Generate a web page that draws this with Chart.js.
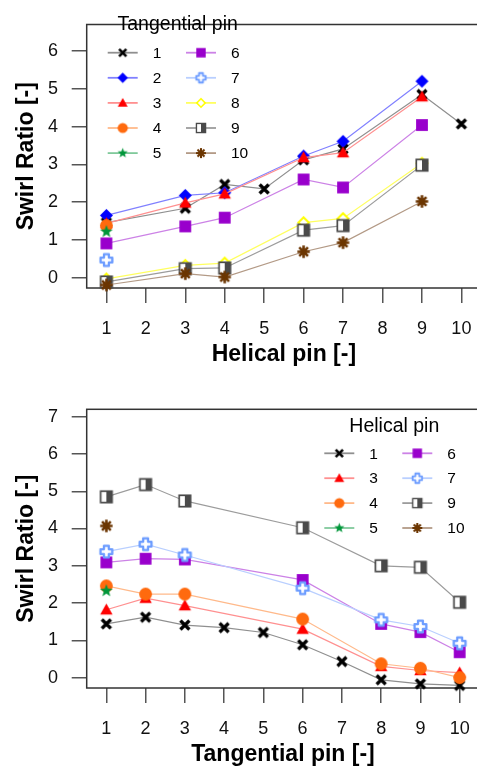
<!DOCTYPE html>
<html>
<head>
<meta charset="utf-8">
<script src="https://cdn.jsdelivr.net/npm/chart.js@4/dist/chart.umd.min.js"></script>
<style>
  html, body { margin: 0; padding: 0; background: #fff; overflow: hidden; }
  body { width: 477px; height: 770px; position: relative; }
  .chart-box { position: absolute; left: 0; width: 500px; }
  #topBox { top: 0; height: 370px; }
  #bottomBox { top: 380px; height: 390px; }
</style>
</head>
<body>
<div class="chart-box" id="topBox"><canvas id="helicalChart"></canvas></div>
<div class="chart-box" id="bottomBox"><canvas id="tangentialChart"></canvas></div>

<script>
// pin positions on both x axes
const helicalPin = [1, 2, 3, 4, 5, 6, 7, 8, 9, 10];
const tangentialPin = [1, 2, 3, 4, 5, 6, 7, 8, 9, 10];
const yTicksTop = [0, 1, 2, 3, 4, 5, 6];
const yTicksBottom = [0, 1, 2, 3, 4, 5, 6, 7];

// swirl ratio vs helical pin, one series per tangential pin
const tp1 = [1.46, null, 1.84, 2.47, 2.35, 3.12, 3.41, null, 4.85, 4.07];
const tp2 = [1.65, null, 2.18, 2.25, null, 3.22, 3.61, null, 5.20, null];
const tp3 = [1.44, null, 1.98, 2.22, null, 3.18, 3.31, null, 4.79, null];
const tp4 = [1.38, null, null, null, null, null, null, null, null, null];
const tp5 = [1.22, null, null, null, null, null, null, null, null, null];
const tp6 = [0.91, null, 1.36, 1.59, null, 2.60, 2.39, null, 4.04, null];
const tp7 = [0.47, null, null, null, null, null, null, null, null, null];
const tp8 = [-0.03, null, 0.33, 0.39, null, 1.46, 1.57, null, 3.03, null];
const tp9 = [-0.11, null, 0.24, 0.26, null, 1.26, 1.38, null, 2.98, null];
const tp10 = [-0.19, null, 0.11, 0.02, null, 0.69, 0.93, null, 2.02, null];

// swirl ratio vs tangential pin, one series per helical pin
const hp1 = [1.44, 1.62, 1.41, 1.34, 1.21, 0.88, 0.43, -0.06, -0.17, -0.21];
const hp3 = [1.82, 2.13, 1.93, null, null, 1.30, null, 0.30, 0.19, 0.13];
const hp4 = [2.46, 2.24, 2.24, null, null, 1.57, null, 0.37, 0.25, 0.00];
const hp5 = [2.33, null, null, null, null, null, null, null, null, null];
const hp6 = [3.09, 3.19, 3.17, null, null, 2.62, null, 1.44, 1.22, 0.68];
const hp7 = [3.38, 3.58, 3.29, null, null, 2.40, null, 1.55, 1.37, 0.92];
const hp9 = [4.85, 5.18, 4.74, null, null, 4.02, null, 3.00, 2.96, 2.02];
const hp10 = [4.07, null, null, null, null, null, null, null, null, null];

const FONT = '"Liberation Sans", Arial, Helvetica, sans-serif';

// marker + line look for each pin number (same in both plots)
const pinStyles = [
  { kind: 'cross', color: '#000000', line: '#8f8f8f', r: 6.6 },
  { kind: 'diamond', color: '#0000ff', line: '#8080ff', r: 6.5 },
  { kind: 'triangle', color: '#ff0000', line: '#ff9090', r: 6.2 },
  { kind: 'circle', color: '#ff6a0e', line: '#ffb98a', r: 6.4 },
  { kind: 'star', color: '#00963a', line: '#80c99b', r: 6.7 },
  { kind: 'square', color: '#9900cc', line: '#cc82e6', r: 5.9 },
  { kind: 'plus', color: '#6c9cff', line: '#b9cfff', r: 6.4 },
  { kind: 'openDiamond', color: '#ffff00', line: '#ffff60', r: 6.2 },
  { kind: 'halfSquare', color: '#4a4a4a', line: '#9c9c9c', r: 5.7 },
  { kind: 'asterisk', color: '#6b3500', line: '#b39a86', r: 6.2 }
];

const shapes = {
  cross(ctx, r, c) {
    const a = r * 0.68;
    ctx.strokeStyle = c; ctx.lineWidth = r * 0.5;
    ctx.beginPath();
    ctx.moveTo(-a, -a); ctx.lineTo(a, a);
    ctx.moveTo(a, -a); ctx.lineTo(-a, a);
    ctx.stroke();
  },
  diamond(ctx, r, c) {
    ctx.fillStyle = c;
    ctx.beginPath();
    ctx.moveTo(0, -r); ctx.lineTo(r, 0); ctx.lineTo(0, r); ctx.lineTo(-r, 0);
    ctx.closePath(); ctx.fill();
  },
  triangle(ctx, r, c) {
    ctx.fillStyle = c;
    ctx.beginPath();
    ctx.moveTo(0, -r); ctx.lineTo(r, r * 0.75); ctx.lineTo(-r, r * 0.75);
    ctx.closePath(); ctx.fill();
  },
  circle(ctx, r, c) {
    ctx.fillStyle = c;
    ctx.beginPath(); ctx.arc(0, 0, r, 0, Math.PI * 2); ctx.fill();
  },
  star(ctx, r, c) {
    ctx.fillStyle = c;
    ctx.beginPath();
    for (let k = 0; k < 10; k++) {
      const rad = k % 2 === 0 ? r : r * 0.42;
      const ang = -Math.PI / 2 + k * Math.PI / 5;
      ctx.lineTo(Math.cos(ang) * rad, Math.sin(ang) * rad);
    }
    ctx.closePath(); ctx.fill();
  },
  square(ctx, r, c) {
    ctx.fillStyle = c;
    ctx.fillRect(-r, -r, 2 * r, 2 * r);
  },
  plus(ctx, r, c) {
    const w = r * 0.38, a = r * 0.92;
    ctx.beginPath();
    ctx.moveTo(-w, -a); ctx.lineTo(w, -a); ctx.lineTo(w, -w); ctx.lineTo(a, -w);
    ctx.lineTo(a, w); ctx.lineTo(w, w); ctx.lineTo(w, a); ctx.lineTo(-w, a);
    ctx.lineTo(-w, w); ctx.lineTo(-a, w); ctx.lineTo(-a, -w); ctx.lineTo(-w, -w);
    ctx.closePath();
    ctx.fillStyle = '#fff'; ctx.fill();
    ctx.strokeStyle = c; ctx.lineWidth = r * 0.36; ctx.lineJoin = 'round'; ctx.stroke();
  },
  openDiamond(ctx, r, c) {
    const a = r * 0.85;
    ctx.beginPath();
    ctx.moveTo(0, -a); ctx.lineTo(a, 0); ctx.lineTo(0, a); ctx.lineTo(-a, 0);
    ctx.closePath();
    ctx.fillStyle = '#fff'; ctx.fill();
    ctx.strokeStyle = c; ctx.lineWidth = r * 0.32; ctx.stroke();
  },
  halfSquare(ctx, r, c) {
    ctx.fillStyle = '#fff'; ctx.fillRect(-r, -r, 2 * r, 2 * r);
    ctx.fillStyle = c; ctx.fillRect(0, -r, r, 2 * r);
    ctx.strokeStyle = c; ctx.lineWidth = r * 0.3; ctx.strokeRect(-r, -r, 2 * r, 2 * r);
  },
  asterisk(ctx, r, c) {
    ctx.strokeStyle = c; ctx.lineWidth = r * 0.42;
    ctx.beginPath();
    for (let k = 0; k < 4; k++) {
      const ang = k * Math.PI / 4;
      ctx.moveTo(Math.cos(ang) * r, Math.sin(ang) * r);
      ctx.lineTo(-Math.cos(ang) * r, -Math.sin(ang) * r);
    }
    ctx.stroke();
  }
};

function makeMarker(style, scale) {
  const r = style.r * scale;
  const dim = Math.ceil(2 * r + 6);
  const c = document.createElement('canvas');
  c.width = dim; c.height = dim;
  const ctx = c.getContext('2d');
  ctx.translate(dim / 2, dim / 2);
  shapes[style.kind](ctx, r, style.color);
  return c;
}

const plotMarkers = pinStyles.map(s => makeMarker(s, 1));
const legendMarkers = pinStyles.map(s => makeMarker(s, 0.8));

function series(pin, xs, values) {
  const s = pinStyles[pin - 1];
  return {
    label: String(pin),
    data: xs.map((x, i) => ({ x, y: values[i] })),
    borderColor: s.line,
    backgroundColor: s.color,
    borderWidth: 1.2,
    pointStyle: plotMarkers[pin - 1],
    pointRadius: 6,
    spanGaps: true,
    clip: false,
    order: 10 - pin
  };
}

// R-style closed frame around the plotting region
const frame = {
  id: 'frame',
  beforeDatasetsDraw(chart) {
    const { ctx, chartArea: a } = chart;
    ctx.save();
    ctx.strokeStyle = '#333';
    ctx.lineWidth = 1.5;
    ctx.strokeRect(a.left, a.top, a.right - a.left, a.bottom - a.top);
    ctx.restore();
  }
};

// two-column legend with line sample + marker
const pinLegend = {
  id: 'pinLegend',
  afterDatasetsDraw(chart, args, opts) {
    const ctx = chart.ctx;
    ctx.save();
    ctx.fillStyle = '#000';
    ctx.font = '19.5px ' + FONT;
    ctx.textAlign = 'center';
    ctx.textBaseline = 'middle';
    ctx.fillText(opts.title, opts.titleX, opts.titleY);
    ctx.font = '15.5px ' + FONT;
    ctx.textAlign = 'left';
    chart.data.datasets.forEach((ds, i) => {
      const col = Math.floor(i / opts.perCol);
      const row = i % opts.perCol;
      const cx = opts.colX[col];
      const cy = opts.rowY + row * opts.rowStep;
      ctx.strokeStyle = ds.borderColor;
      ctx.lineWidth = 1.8;
      ctx.beginPath();
      ctx.moveTo(cx - 15, cy); ctx.lineTo(cx + 15, cy);
      ctx.stroke();
      const m = legendMarkers[Number(ds.label) - 1];
      ctx.drawImage(m, cx - m.width / 2, cy - m.height / 2);
      ctx.fillStyle = '#000';
      ctx.fillText(ds.label, cx + 30, cy + 1);
    });
    ctx.restore();
  }
};

function makeChart(id, datasets, xTitle, yTicks, yMin, yMax, pad, legend) {
  return new Chart(document.getElementById(id), {
    type: 'line',
    data: { datasets },
    plugins: [frame, pinLegend],
    options: {
      responsive: true,
      maintainAspectRatio: false,
      animation: false,
      layout: { autoPadding: false, padding: pad },
      plugins: {
        legend: { display: false },
        tooltip: { enabled: false },
        pinLegend: legend
      },
      scales: {
        x: {
          type: 'linear',
          min: 0.5,
          max: 10.5,
          afterBuildTicks: scale => { scale.ticks = helicalPin.map(v => ({ value: v })); },
          afterFit: scale => { scale.height = 82; },
          grid: { drawOnChartArea: false, tickLength: 15, color: '#555', lineWidth: 1.5 },
          border: { display: false },
          ticks: { color: '#111', font: { family: FONT, size: 18 }, padding: 15, maxRotation: 0 },
          title: {
            display: true,
            text: xTitle,
            color: '#000',
            font: { family: FONT, size: 23, weight: 'bold' },
            padding: { top: 0, bottom: 1.2 }
          }
        },
        y: {
          min: yMin,
          max: yMax,
          afterBuildTicks: scale => { scale.ticks = yTicks.map(v => ({ value: v })); },
          afterFit: scale => { scale.width = 86.7; },
          grid: { drawOnChartArea: false, tickLength: 15, color: '#555', lineWidth: 1.5 },
          border: { display: false },
          ticks: { color: '#111', font: { family: FONT, size: 18 }, padding: 13.7 },
          title: {
            display: true,
            text: 'Swirl Ratio [-]',
            color: '#000',
            font: { family: FONT, size: 23, weight: 'bold' },
            padding: { top: 13, bottom: 0 }
          }
        }
      }
    }
  });
}

makeChart('helicalChart', [
  series(1, helicalPin, tp1),
  series(2, helicalPin, tp2),
  series(3, helicalPin, tp3),
  series(4, helicalPin, tp4),
  series(5, helicalPin, tp5),
  series(6, helicalPin, tp6),
  series(7, helicalPin, tp7),
  series(8, helicalPin, tp8),
  series(9, helicalPin, tp9),
  series(10, helicalPin, tp10)
], 'Helical pin [-]', yTicksTop, -0.27, 6.7,
  { top: 6.7, right: 18.9, left: 0, bottom: 0 },
  { title: 'Tangential pin', titleX: 177.7, titleY: 25, colX: [122.7, 201], rowY: 52.7, rowStep: 25.1, perCol: 5 });

makeChart('tangentialChart', [
  series(1, tangentialPin, hp1),
  series(3, tangentialPin, hp3),
  series(4, tangentialPin, hp4),
  series(5, tangentialPin, hp5),
  series(6, tangentialPin, hp6),
  series(7, tangentialPin, hp7),
  series(9, tangentialPin, hp9),
  series(10, tangentialPin, hp10)
], 'Tangential pin [-]', yTicksBottom, -0.28, 7.2,
  { top: 29.3, right: 20.7, left: 0, bottom: 0 },
  { title: 'Helical pin', titleX: 394.3, titleY: 46.7, colX: [339.3, 417.3], rowY: 73.3, rowStep: 24.9, perCol: 4 });
</script>
</body>
</html>
